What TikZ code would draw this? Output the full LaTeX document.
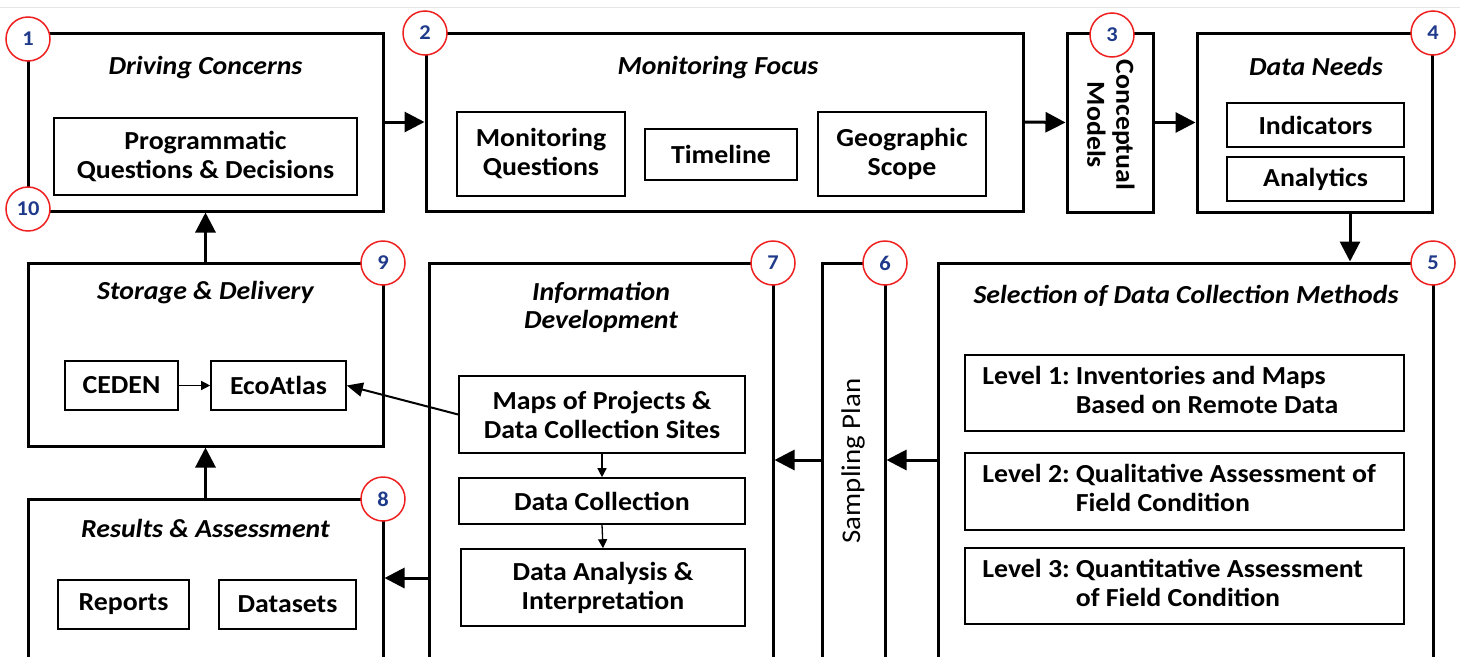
\documentclass[tikz,border=0pt]{standalone}
\usepackage{fontspec}
\setmainfont{Carlito}[FakeStretch=1.07]
\usetikzlibrary{arrows.meta}
\definecolor{numblue}{HTML}{1F3A8A}
\definecolor{ringred}{HTML}{EE2020}
\definecolor{topgray}{HTML}{E6E6E6}
\tikzset{
  outerbox/.style={draw, line width=3pt, inner sep=0pt},
  innerbox/.style={draw, line width=1.6pt, inner sep=0pt, align=center,
    font=\fontsize{26}{29}\selectfont\bfseries},
  plaintext/.style={inner sep=0pt, font=\fontsize{26}{29}\selectfont\bfseries},
  titletext/.style={inner sep=0pt, align=center,
    font=\fontsize{26}{28}\selectfont\bfseries\itshape},
  numring/.style={circle, draw=ringred, line width=1.5pt, fill=white,
    minimum size=44pt, inner sep=0pt, text=numblue,
    font=\fontsize{21}{21}\selectfont\bfseries},
  bigarrow/.style={line width=3pt, -{Triangle[length=20pt,width=20pt]}},
  midarrow/.style={line width=2pt, -{Triangle[length=16pt,width=14pt]}},
  smallarrow/.style={line width=1.3pt, -{Triangle[length=9pt,width=9pt]}},
}
\begin{document}
\begin{tikzpicture}[x=1pt,y=-1pt]
\useasboundingbox (0,0) rectangle (1466,656);
\fill[white] (0,0) rectangle (1466,656);
\clip (0,0) rectangle (1466,656);
\draw[topgray, line width=1pt] (0,7) -- (1460,7);

% outer boxes
\node[outerbox, minimum width=355pt, minimum height=178pt] (b1) at (205.5,122) {};
\node[outerbox, minimum width=597pt, minimum height=178pt] (b2) at (724.5,122) {};
\node[outerbox, minimum width=86pt, minimum height=179pt] (b3) at (1110,122.5) {};
\node[outerbox, minimum width=235pt, minimum height=179pt] (b4) at (1314.5,122.5) {};
\node[outerbox, minimum width=495pt, minimum height=437pt] (b5) at (1185.5,481.5) {};
\node[outerbox, minimum width=63pt, minimum height=437pt] (b6) at (853.5,481.5) {};
\node[outerbox, minimum width=344pt, minimum height=437pt] (b7) at (601,481.5) {};
\node[outerbox, minimum width=355pt, minimum height=183pt] (b9) at (205.5,354.5) {};
\node[outerbox, minimum width=355pt, minimum height=201pt] (b8) at (205.5,599.5) {};

% titles
\node[titletext] (t1) at (205.5,68) {Driving Concerns};
\node[titletext] (t2) at (718,68) {Monitoring Focus};
\node[titletext] (t4) at (1316,66) {Data Needs};
\node[titletext] (t5) at (1186,296) {Selection of Data Collection Methods};
\node[titletext] (t7) at (601,307) {Information\\Development};
\node[titletext] (t9) at (205.5,293) {Storage \& Delivery};
\node[titletext] (t8) at (205.5,528) {Results \& Assessment};
\node[plaintext, align=center, rotate=-90] (t3) at (1111,125) {Conceptual\\Models};
\node[plaintext, font=\fontsize{27}{29}\selectfont, rotate=90] (t6) at (853,461) {Sampling Plan};

% inner boxes
\node[innerbox, minimum width=303pt, minimum height=77pt] (pq) at (205.5,156.5) {Programmatic\\Questions \& Decisions};
\node[innerbox, minimum width=168pt, minimum height=84pt] (mq) at (541,154) {Monitoring\\Questions};
\node[innerbox, minimum width=152pt, minimum height=51pt] (tl) at (721,154.5) {Timeline};
\node[innerbox, minimum width=168pt, minimum height=84pt] (gs) at (902,154) {Geographic\\Scope};
\node[innerbox, minimum width=177pt, minimum height=44pt] (ind) at (1315.5,125) {Indicators};
\node[innerbox, minimum width=177pt, minimum height=44pt] (ana) at (1315.5,179) {Analytics};
\node[innerbox, minimum width=113pt, minimum height=49pt] (ceden) at (121.5,385.5) {CEDEN};
\node[innerbox, minimum width=135pt, minimum height=49pt] (eco) at (278.5,385.5) {EcoAtlas};
\node[innerbox, minimum width=131pt, minimum height=49pt] (rep) at (123.5,604.5) {Reports};
\node[innerbox, minimum width=137pt, minimum height=49pt] (dat) at (287.5,604.5) {Datasets};
\node[innerbox, minimum width=286pt, minimum height=77pt] (maps) at (602,414.5) {Maps of Projects \&\\Data Collection Sites};
\node[innerbox, minimum width=286pt, minimum height=46pt] (dc) at (602,501) {Data Collection};
\node[innerbox, minimum width=284pt, minimum height=77pt] (da) at (603,587.5) {Data Analysis \&\\Interpretation};
\node[innerbox, minimum width=439pt, minimum height=76pt] (l1) at (1184.5,393) {};
\node[innerbox, minimum width=439pt, minimum height=77pt] (l2) at (1184.5,491.5) {};
\node[innerbox, minimum width=439pt, minimum height=76pt] (l3) at (1184.5,586) {};
\node[plaintext, anchor=west] (l1t) at ([xshift=18pt]l1.west) {\begin{tabular}{@{}l@{\hspace{6pt}}l@{}}Level 1: & Inventories and Maps\\ & Based on Remote Data\end{tabular}};
\node[plaintext, anchor=west] (l2t) at ([xshift=18pt]l2.west) {\begin{tabular}{@{}l@{\hspace{6pt}}l@{}}Level 2: & Qualitative Assessment of\\ & Field Condition\end{tabular}};
\node[plaintext, anchor=west] (l3t) at ([xshift=18pt]l3.west) {\begin{tabular}{@{}l@{\hspace{6pt}}l@{}}Level 3: & Quantitative Assessment\\ & of Field Condition\end{tabular}};

% connectors
\coordinate (ymid) at (0,460);
\coordinate (ylow) at (0,578);
\draw[bigarrow] (b1.east) -- (b2.west);
\draw[bigarrow] (b2.east) -- (b3.west);
\draw[bigarrow] (b3.east) -- (b4.west);
\draw[bigarrow] ([xshift=35.5pt]b4.south) -- ([xshift=35.5pt]b4.south |- b5.north);
\draw[bigarrow] (b5.west |- ymid) -- (b6.east |- ymid);
\draw[bigarrow] (b6.west |- ymid) -- (b7.east |- ymid);
\draw[bigarrow] (b7.west |- ylow) -- (b8.east |- ylow);
\draw[bigarrow] (b8.north) -- (b9.south);
\draw[bigarrow] (b9.north) -- (b1.south);
\draw[midarrow] (maps.west) -- (eco.east);
\draw[smallarrow] (ceden.east) -- (eco.west);
\draw[smallarrow] (maps.south) -- (dc.north);
\draw[smallarrow] (dc.south) -- (da.north);

% number rings
\node[numring] (n1) at (28,39) {1};
\node[numring] (n10) at (28,209) {10};
\node[numring] (n2) at (425,33) {2};
\node[numring] (n3) at (1112,35) {3};
\node[numring] (n4) at (1433,33) {4};
\node[numring] (n5) at (1433,263) {5};
\node[numring] (n6) at (885,263) {6};
\node[numring] (n7) at (773,263) {7};
\node[numring] (n9) at (383,263) {9};
\node[numring] (n8) at (383,499) {8};
\end{tikzpicture}
\end{document}
